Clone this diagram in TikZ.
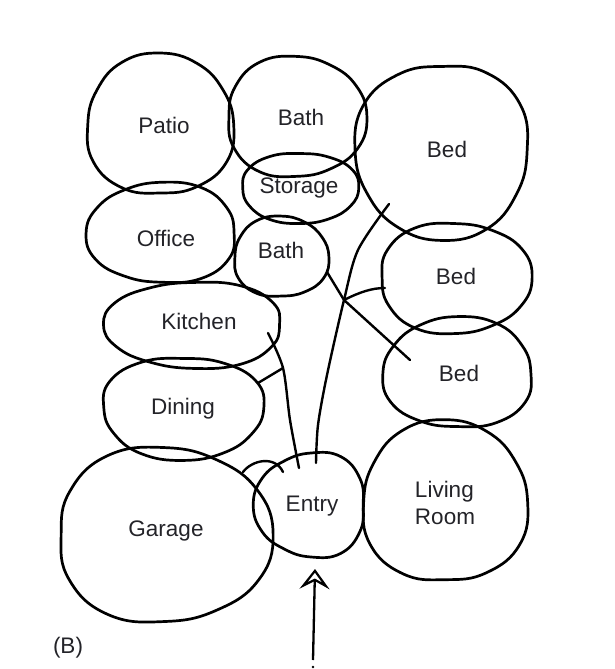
\documentclass[tikz,border=0pt]{standalone}
\usepackage{fontspec}
\setmainfont{Liberation Sans}
\usetikzlibrary{arrows.meta}
\definecolor{txt}{RGB}{35,35,40}
\tikzset{
  bubble/.style={line width=2.7pt, line join=round},
  conn/.style={line width=2.4pt, line cap=round},
  lbl/.style={font=\fontsize{22.5}{27}\selectfont, text=txt, inner sep=0pt},
}
\newcommand\bubbleshape[6]{%
  \draw[bubble] plot[smooth cycle, tension=0.75, samples at={0,30,...,330}, variable=\t]
   ({#1+#3*cos(\t)*(1+0.035*sin(2*\t)*sin(2*\t)+#5*sin(3*\t+#6))},
    {#2+#4*sin(\t)*(1+0.035*sin(2*\t)*sin(2*\t)+#5*sin(3*\t+#6))});}
\begin{document}
\begin{tikzpicture}[x=1pt,y=-1pt]
\useasboundingbox (0,0) rectangle (615,669);
% bubbles
\bubbleshape{160}{125}{73}{70}{0.03}{20}
\bubbleshape{296}{117}{69}{60}{0.03}{70}
\bubbleshape{300}{188}{58}{35}{0.02}{140}
\bubbleshape{442}{151}{86}{87}{0.03}{200}
\bubbleshape{162}{233}{74}{50}{0.03}{300}
\bubbleshape{281}{257}{47}{40}{0.03}{40}
\bubbleshape{455}{278}{75}{55}{0.03}{110}
\bubbleshape{194}{325}{88}{43}{0.03}{250}
\bubbleshape{458}{373}{74}{55}{0.03}{330}
\bubbleshape{183}{408}{80}{51}{0.03}{160}
\bubbleshape{164}{535}{106}{87}{0.03}{80}
\bubbleshape{311}{505}{55}{52}{0.05}{270}
\bubbleshape{445}{502}{82}{80}{0.03}{15}
% labels
\node[lbl] (patio) at (164,125) {Patio};
\node[lbl] (bathA) at (301,117) {Bath};
\node[lbl] (bedA) at (447,149) {Bed};
\node[lbl] (storage) at (299,188) {Storage};
\node[lbl] (office) at (166,238) {Office};
\node[lbl] (bathB) at (281,250) {Bath};
\node[lbl] (bedB) at (456,276) {Bed};
\node[lbl] (kitchen) at (199,321) {Kitchen};
\node[lbl] (bedC) at (459,373) {Bed};
\node[lbl] (dining) at (183,409) {Dining};
\node[lbl] (entry) at (312,506) {Entry};
\node[lbl, align=left] (living) at (445,503) {Living\\Room};
\node[lbl] (garage) at (166,531) {Garage};
\node[lbl] (fig) at (68,648) {(B)};
% connector points
\coordinate (k1) at (268,333);
\coordinate (dk) at (283,368);
\coordinate (d1) at (258,383);
\coordinate (e1) at (299,468);
\coordinate (e2) at (316,463);
\coordinate (j) at (344,300);
\coordinate (b1) at (389,204);
\coordinate (bb) at (327,272);
\coordinate (b3) at (410,360);
\coordinate (b2) at (385,288);
\coordinate (g1) at (243,472);
\coordinate (g2) at (283,472);
\coordinate (a0) at (313,660);
\coordinate (a1) at (315,569);
% connectors
\draw[conn] plot[smooth] coordinates {(k1) (dk) (290,420) (e1)};
\draw[conn] (d1) -- (dk);
\draw[conn] plot[smooth] coordinates {(e2) (318,425) (327,375) (j) (358,250) (b1)};
\draw[conn] (bb) -- (j) -- (b3);
\draw[conn] (j) .. controls (360,292) and (372,288) .. (b2);
\draw[conn] (g1) .. controls (252,460) and (275,455) .. (g2);
\draw[line width=2.3pt, -{Stealth[open, length=20pt, width=30pt, inset=8pt, line width=2.2pt]}] (a0) -- (a1);
\fill (313,667) circle (1.3);
\end{tikzpicture}
\end{document}
